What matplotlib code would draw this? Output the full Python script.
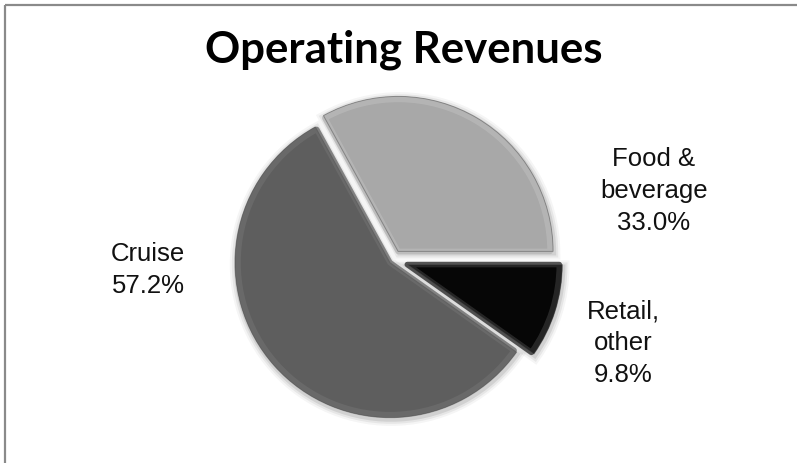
import matplotlib.pyplot as plt
from matplotlib.patches import Wedge

labels = ["Food &\nbeverage", "Cruise", "Retail,\nother"]
shares = [33.0, 57.2, 9.8]
colors = ["#a8a8a8", "#5e5e5e", "#060606"]
rims = ["#b8b8b8", "#6c6c6c", "#2e2e2e"]
explode = [10, 4, 15]

# label anchor points in pixel space (y measured from top)
label_pos = [(654, 191), (148, 270), (623, 343)]

W, H = 797, 463
cx, cy = 393, H - 260
radius = 155

fig = plt.figure(figsize=(W / 100, H / 100), dpi=100)
ax = fig.add_axes([0, 0, 1, 1])

wedges, _ = ax.pie(
    shares,
    colors=colors,
    explode=explode,
    center=(cx, cy),
    radius=radius,
    startangle=0,
    counterclock=True,
    frame=True,
    wedgeprops=dict(edgecolor=None, linewidth=0),
)

# soft shadow and bevelled rim around each slice
for w, rim in zip(wedges, rims):
    (x0, y0), r = w.center, w.r
    for lw, a in [(9, 0.04), (6, 0.06), (3, 0.09)]:
        sh = Wedge((x0 + 1, y0 - 2), r, w.theta1, w.theta2,
                   facecolor="none", edgecolor="black", linewidth=lw,
                   alpha=a, zorder=0.5)
        ax.add_patch(sh)
    bev = Wedge((x0, y0), r - 3, w.theta1, w.theta2, facecolor="none",
                edgecolor=rim, linewidth=4, alpha=0.8, zorder=2,
                joinstyle="round")
    ax.add_patch(bev)
    out = Wedge((x0, y0), r, w.theta1, w.theta2, facecolor="none",
                edgecolor="#505050", linewidth=0.7, alpha=0.5, zorder=2)
    ax.add_patch(out)

for lab, val, (px, py) in zip(labels, shares, label_pos):
    ax.text(px, H - py, f"{lab}\n{val:.1f}%", ha="center", va="center",
            fontsize=18.5, family="Liberation Sans", linespacing=1.4,
            color="#111111")

ax.text(404, H - 50, "Operating Revenues", ha="center", va="center",
        fontsize=31.5, fontweight="bold", family="Lato", color="black")

# chart frame (left and top edges)
ax.plot([5.5, 5.5], [0, H - 5], color="#8a8a8a", linewidth=1.6,
        solid_capstyle="butt")
ax.plot([5.5, W], [H - 5, H - 5], color="#8a8a8a", linewidth=1.6,
        solid_capstyle="butt")

ax.set_xlim(0, W)
ax.set_ylim(0, H)
ax.set_aspect("auto")
ax.axis("off")

fig.savefig("out.png", dpi=100)
plt.close(fig)
